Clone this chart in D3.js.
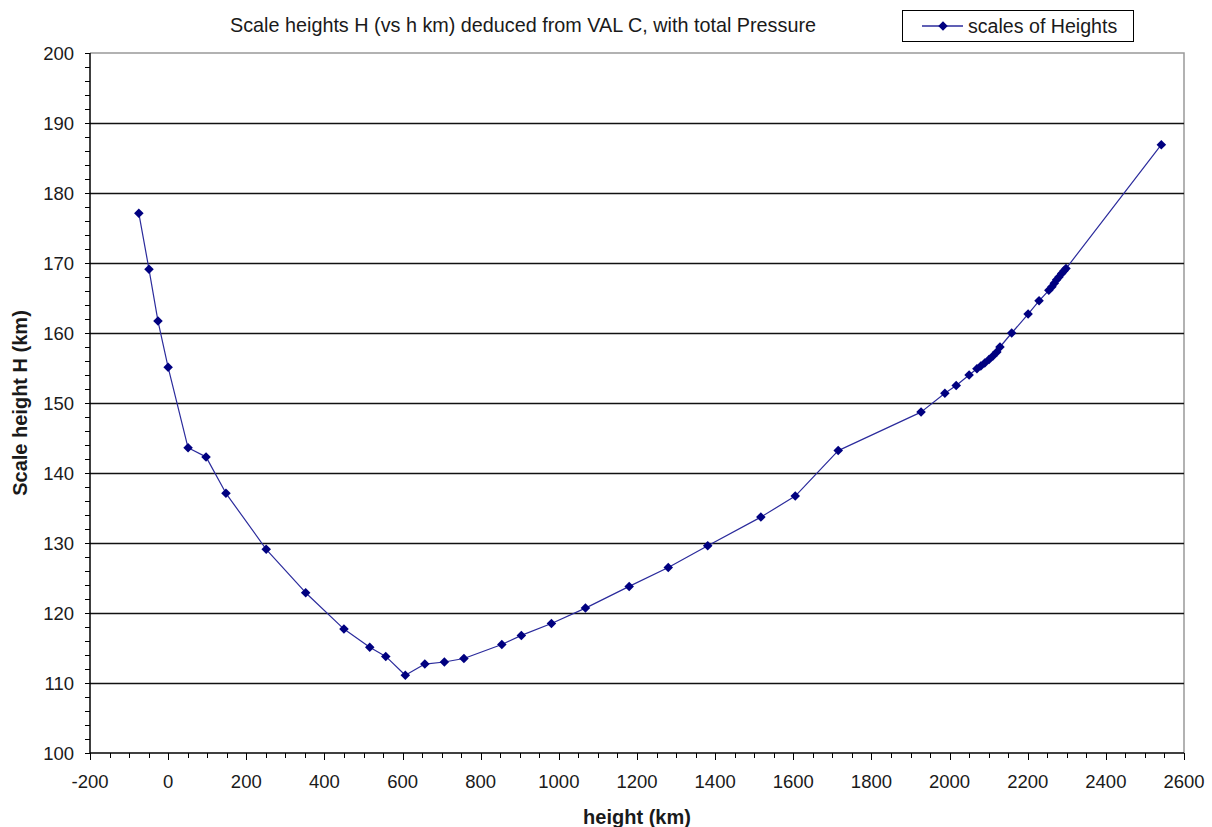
<!DOCTYPE html>
<html>
<head>
<meta charset="utf-8">
<script src="https://cdn.jsdelivr.net/npm/d3@7"></script>
<style>
  body { margin: 0; background: #fff; }
  svg { display: block; font-family: "Liberation Sans", Arial, sans-serif; }
</style>
</head>
<body>
<svg id="chart" width="1212" height="827"></svg>
<script>
// Height above tau5000 = 1 (km) and the derived pressure scale height H (km)
const heights = [
  -75, -49, -26, 0, 51, 97, 148, 251, 352, 450, 516, 557, 607, 657, 707, 757,
  854, 904, 981, 1068, 1180, 1280, 1381, 1517, 1605, 1715, 1927, 1988, 2017,
  2050, 2070, 2080, 2090, 2101, 2111, 2121, 2129, 2159, 2201, 2229, 2254,
  2262, 2268, 2274, 2280, 2287, 2293, 2298, 2542
];
const scaleH = [
  177.1, 169.1, 161.7, 155.1, 143.6, 142.3, 137.1, 129.1, 122.9, 117.7, 115.1,
  113.8, 111.1, 112.7, 113.0, 113.5, 115.5, 116.8, 118.5, 120.7, 123.8, 126.5,
  129.6, 133.7, 136.7, 143.2, 148.7, 151.4, 152.5, 154.0, 154.9, 155.3, 155.7,
  156.2, 156.7, 157.3, 158.0, 160.0, 162.7, 164.6, 166.1, 166.6, 167.1, 167.6,
  168.0, 168.5, 168.9, 169.2, 186.9
];
const xTicks = [-200, 0, 200, 400, 600, 800, 1000, 1200, 1400, 1600, 1800, 2000, 2200, 2400, 2600];
const yTicks = [100, 110, 120, 130, 140, 150, 160, 170, 180, 190, 200];

const title = "Scale heights H (vs h km) deduced from VAL C, with total Pressure";
const xTitle = "height (km)";
const yTitle = "Scale height H (km)";
const seriesName = "scales of Heights";

(function draw() {
  const data = heights.map((h, i) => ({ h, H: scaleH[i] }));

  const svg = d3.select("#chart");
  const pL = 90, pR = 1184, pT = 53, pB = 753;

  const x = d3.scaleLinear().domain([-200, 2600]).range([pL, pR]);
  const y = d3.scaleLinear().domain([100, 200]).range([pB, pT]);

  const navy = "#000080";
  const lineColor = "#2b2b9c";
  const labelColor = "#1a1a1a";

  // Plot frame (top and right edges)
  svg.append("path")
    .attr("d", `M${pL},${pT}H${pR}V${pB}`)
    .attr("fill", "none").attr("stroke", "#999").attr("stroke-width", 1.5);

  // Horizontal gridlines
  svg.append("g").selectAll("line")
    .data(yTicks.filter(v => v > 100 && v < 200))
    .join("line")
    .attr("x1", pL).attr("x2", pR)
    .attr("y1", d => y(d) + 0.5).attr("y2", d => y(d) + 0.5)
    .attr("stroke", "#111").attr("stroke-width", 1.3);

  // Y axis with minor ticks every 2 km
  const yMinor = d3.range(100, 200.1, 2);
  const yAxisG = svg.append("g");
  yAxisG.append("line").attr("x1", pL).attr("x2", pL).attr("y1", pT).attr("y2", pB)
    .attr("stroke", "#000").attr("stroke-width", 1.5);
  yAxisG.selectAll("line.minor").data(yMinor).join("line").attr("class", "minor")
    .attr("x1", pL - 5).attr("x2", pL)
    .attr("y1", d => Math.round(y(d)) + 0.5).attr("y2", d => Math.round(y(d)) + 0.5)
    .attr("stroke", "#000").attr("stroke-width", 1);
  yAxisG.selectAll("text").data(yTicks).join("text")
    .attr("x", pL - 16).attr("y", d => y(d))
    .attr("dy", "0.36em").attr("text-anchor", "end")
    .attr("font-size", 18.5).attr("fill", labelColor)
    .text(d => d);

  // X axis with minor ticks every 50 km
  const xMinor = d3.range(-200, 2600.1, 50);
  const xAxisG = svg.append("g");
  xAxisG.append("line").attr("x1", pL).attr("x2", pR).attr("y1", pB).attr("y2", pB)
    .attr("stroke", "#000").attr("stroke-width", 1.5);
  xAxisG.selectAll("line.minor").data(xMinor).join("line").attr("class", "minor")
    .attr("x1", d => Math.round(x(d)) + 0.5).attr("x2", d => Math.round(x(d)) + 0.5)
    .attr("y1", pB).attr("y2", d => pB + (d % 200 === 0 ? 7 : 5))
    .attr("stroke", "#000").attr("stroke-width", 1);
  xAxisG.selectAll("text").data(xTicks).join("text")
    .attr("x", d => x(d)).attr("y", pB + 35)
    .attr("text-anchor", "middle")
    .attr("font-size", 18.5).attr("fill", labelColor)
    .text(d => d);

  // Series line
  const line = d3.line().x(d => x(d.h)).y(d => y(d.H));
  svg.append("path").datum(data)
    .attr("d", line).attr("fill", "none")
    .attr("stroke", lineColor).attr("stroke-width", 1.2)
    .attr("stroke-linejoin", "round");

  // Diamond markers
  const diamond = d3.symbol().type(d3.symbolDiamond2).size(58);
  svg.append("g").selectAll("path").data(data).join("path")
    .attr("transform", d => `translate(${x(d.h)},${y(d.H)})`)
    .attr("d", diamond).attr("fill", navy);

  // Titles
  svg.append("text").attr("x", 523).attr("y", 31.5).attr("text-anchor", "middle")
    .attr("font-size", 19.8).attr("fill", labelColor).text(title);
  svg.append("text").attr("x", 637).attr("y", 824).attr("text-anchor", "middle")
    .attr("font-size", 20).attr("font-weight", "bold").attr("fill", labelColor).text(xTitle);
  svg.append("text").attr("transform", `translate(27,${(pT + pB) / 2}) rotate(-90)`)
    .attr("text-anchor", "middle").attr("font-size", 20).attr("font-weight", "bold")
    .attr("fill", labelColor).text(yTitle);

  // Legend
  const lg = svg.append("g");
  lg.append("rect").attr("x", 902.5).attr("y", 10.5).attr("width", 231).attr("height", 31)
    .attr("fill", "#fff").attr("stroke", "#000").attr("stroke-width", 1);
  lg.append("line").attr("x1", 922).attr("x2", 963).attr("y1", 26).attr("y2", 26)
    .attr("stroke", lineColor).attr("stroke-width", 1.5);
  lg.append("path").attr("transform", "translate(943,26)").attr("d", diamond).attr("fill", navy);
  lg.append("text").attr("x", 968).attr("y", 26).attr("dy", "0.36em")
    .attr("font-size", 19.6).attr("fill", labelColor).text(seriesName);
})();
</script>
</body>
</html>
